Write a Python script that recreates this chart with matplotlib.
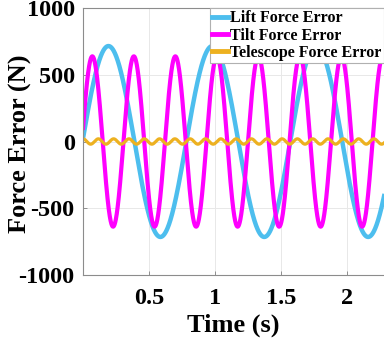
import numpy as np
import matplotlib
matplotlib.use("Agg")
import matplotlib.pyplot as plt

# ---- data ----
series_names = ["Lift Force Error", "Tilt Force Error", "Telescope Force Error"]
amplitudes = [715, 638, 20]          # N
periods = [0.787, 0.3145, 0.116]     # s
phase_shift = [-0.004, -0.008, 0.0]  # s (time of the zero crossing / crest)
waveform = ["sin", "sin", "cos"]
t_start, t_end = 0.0, 2.6
xticks = [0.5, 1, 1.5, 2]
xticklabels = ["0.5", "1", "1.5", "2"]
yticks = [-1000, -500, 0, 500, 1000]
yticklabels = ["-1000", "-500", "0", "500", "1000"]

colors = ["#4DBEEE", "#FF00FF", "#EDB120"]
linewidths = [3.2, 3.0, 2.3]

plt.rcParams['font.family'] = ['Liberation Serif', 'DejaVu Serif']
plt.rcParams['font.weight'] = 'bold'

W, H = 384, 345
fig = plt.figure(figsize=(W / 100, H / 100), dpi=100)
left, right, top, bottom = 83, 384, 8, 275
ax = fig.add_axes([left / W, 1 - bottom / H, (right - left) / W, (bottom - top) / H])

t = np.linspace(t_start, t_end, 4000)
for name, a, p, ph, wf, c, lw in zip(series_names, amplitudes, periods, phase_shift,
                                     waveform, colors, linewidths):
    fn = np.sin if wf == "sin" else np.cos
    ax.plot(t, a * fn(2 * np.pi * (t - ph) / p), color=c, lw=lw, label=name)

ax.set_xlim(0, (right - left) / 132.0)
ax.set_ylim(-1000, 1000)
ax.set_xticks(xticks)
ax.set_xticklabels(xticklabels)
ax.set_yticks(yticks)
ax.set_yticklabels(yticklabels)
ax.tick_params(direction='in', length=3, width=0.6, colors='#808080',
               labelcolor='black', labelsize=17.5, pad=6)
for lab in ax.get_xticklabels() + ax.get_yticklabels():
    lab.set_fontweight('bold')
ax.tick_params(axis='x', pad=9)
ax.grid(True, color='#e8e8e8', lw=0.7)
ax.set_axisbelow(True)
for s in ['left', 'bottom', 'top']:
    ax.spines[s].set_color('#8c8c8c')
    ax.spines[s].set_linewidth(0.8)
ax.spines['right'].set_visible(False)

ax.set_xlabel("Time (s)", fontsize=19, fontweight='bold', labelpad=4)
ax.set_ylabel("Force Error (N)", fontsize=19, fontweight='bold')
ax.yaxis.set_label_coords((32 - left) / (right - left), 0.49)

leg = ax.legend(loc='upper left', bbox_to_anchor=(210 / W, 1 - 8 / H),
                bbox_transform=fig.transFigure, fontsize=11.5, frameon=True,
                fancybox=False, framealpha=1, edgecolor='#b0b0b0',
                handlelength=0.95, handletextpad=0.15, borderpad=0.15,
                labelspacing=0.08, borderaxespad=0)
for line in leg.get_lines():
    line.set_linewidth(3.5)
for txt in leg.get_texts():
    txt.set_fontweight('bold')
leg.get_frame().set_linewidth(0.8)

fig.savefig("out.png", dpi=100)
